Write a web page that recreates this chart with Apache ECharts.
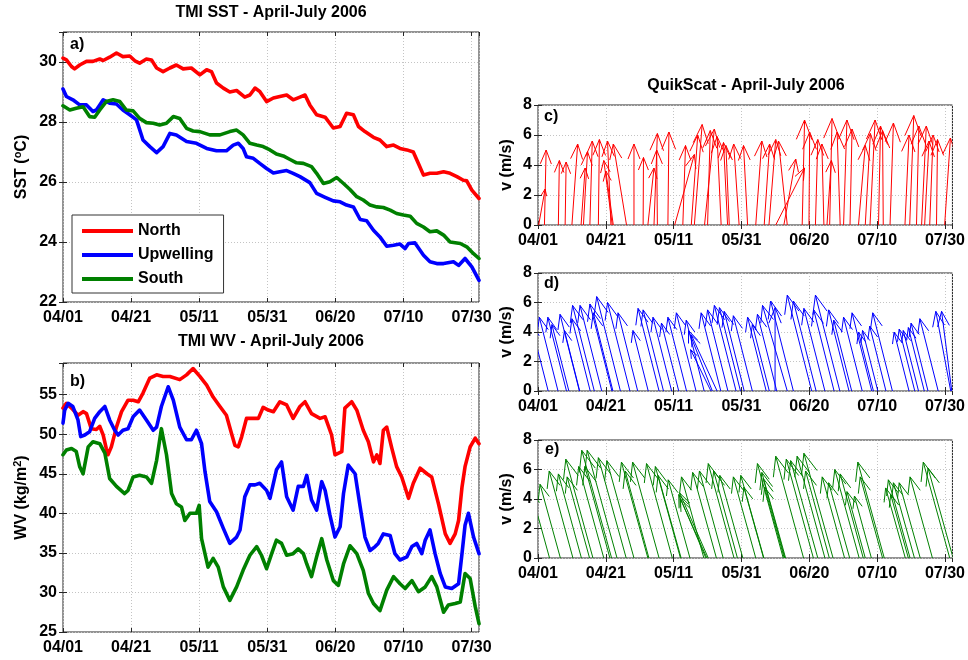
<!DOCTYPE html>
<html><head><meta charset="utf-8">
<script src="https://cdn.jsdelivr.net/npm/echarts@6/dist/echarts.min.js"></script>
<style>html,body{margin:0;padding:0;background:#fff}#chart{width:968px;height:660px}</style>
</head><body><div id="chart"></div>
<script>
// ---------- tick labels ----------
const tickLabels = ['04/01','04/21','05/11','05/31','06/20','07/10','07/30'];

// ---------- panel a: TMI SST (days since 04/01) ----------
const sstNorthDay = [0,1.0,2.5,3.4,4.9,6.9,8.8,10.8,11.8,13.7,15.7,17.6,19.6,21.1,22.5,24.5,26.0,27.5,29.4,31.4,33.3,35.3,37.7,40.2,42.2,43.6,45.1,47.1,49.0,51.0,53.4,54.9,56.4,57.8,59.8,61.8,63.7,65.7,67.6,69.6,71.1,72.5,74.5,77.0,79.4,81.4,83.3,85.3,86.8,88.7,91.2,93.1,95.1,97.1,99.0,101.0,102.9,104.4,105.9,107.8,109.8,111.8,113.7,115.7,117.6,118.6,120.1,122.2];
const sstNorth = [30.13,30.07,29.85,29.77,29.9,30.02,30.02,30.1,30.05,30.16,30.3,30.18,30.2,30.04,29.96,30.1,30.07,29.8,29.68,29.8,29.9,29.77,29.8,29.57,29.74,29.68,29.3,29.13,29.0,29.05,28.83,28.9,29.13,29.02,28.68,28.8,28.85,28.9,28.74,28.83,28.9,28.57,28.24,28.16,27.8,27.85,28.29,28.24,27.85,27.68,27.49,27.4,27.18,27.23,27.12,27.07,27.0,26.62,26.23,26.29,26.29,26.34,26.29,26.18,26.06,26.04,25.73,25.45];
const sstUpDay = [0,1.0,2.9,4.9,6.9,8.8,9.8,10.8,11.8,13.7,15.7,17.6,19.6,21.6,23.5,25.5,27.5,29.4,31.4,33.3,36.3,39.2,42.2,45.1,48.0,50.0,51.5,52.9,53.9,55.9,57.8,59.8,61.8,63.7,65.7,67.6,69.6,72.5,74.5,77.0,79.4,81.4,83.3,85.3,87.3,89.2,91.2,93.1,95.1,97.1,99.0,100.5,101.5,103.4,105.9,107.8,109.8,111.8,114.7,116.2,118.1,120.1,122.2];
const sstUp = [29.1,28.85,28.74,28.57,28.57,28.35,28.4,28.57,28.74,28.63,28.6,28.4,28.24,28.07,27.4,27.18,26.98,27.18,27.62,27.57,27.35,27.29,27.12,27.04,27.04,27.23,27.29,27.12,26.84,26.79,26.62,26.45,26.3,26.34,26.38,26.29,26.18,25.98,25.62,25.49,25.37,25.34,25.23,25.17,24.75,24.71,24.39,24.17,23.86,23.89,23.93,23.78,23.95,23.97,23.56,23.34,23.28,23.28,23.34,23.22,23.45,23.17,22.72];
const sstSouthDay = [0,2.0,3.9,5.9,7.8,9.3,10.8,12.7,14.7,16.7,18.6,20.6,22.5,24.5,26.5,28.4,30.4,32.4,34.3,36.3,38.2,40.2,43.1,46.1,49.0,51.0,52.9,54.9,56.9,58.8,60.8,62.7,64.7,66.7,68.6,70.6,73.0,74.5,76.5,78.4,80.4,82.4,84.3,86.3,88.2,90.2,92.2,94.1,96.1,98.0,100.0,102.0,103.9,105.9,107.8,109.8,111.8,113.7,116.7,118.6,120.6,122.2];
const sstSouth = [28.54,28.4,28.46,28.51,28.18,28.16,28.4,28.68,28.74,28.68,28.4,28.37,28.12,27.98,27.96,27.9,27.96,28.18,28.12,27.79,27.7,27.68,27.57,27.57,27.68,27.73,27.57,27.29,27.23,27.18,27.07,26.93,26.87,26.75,26.64,26.62,26.51,26.29,25.95,26.01,26.15,25.95,25.75,25.51,25.4,25.23,25.17,25.15,25.06,24.95,24.9,24.86,24.62,24.5,24.34,24.37,24.23,24.0,23.95,23.84,23.61,23.45];

// ---------- panel b: TMI WV ----------
const wvNorthDay = [0,1.0,2.5,4.4,5.9,6.9,8.3,9.8,10.8,11.8,12.7,13.2,14.2,15.7,17.2,19.1,20.6,22.1,23.5,25.5,27.5,29.4,31.4,34.3,36.3,38.2,40.2,42.2,44.1,46.1,48.0,49.5,50.5,51.5,52.5,53.9,55.9,57.4,58.8,60.3,61.8,63.7,65.7,67.6,69.6,71.1,73.0,75.5,77.0,78.9,79.9,81.9,82.8,84.8,86.3,88.2,89.7,91.2,92.2,93.1,94.1,95.1,96.6,98.0,99.5,101.5,102.9,104.9,106.9,108.3,110.3,112.3,113.7,115.2,116.2,117.2,118.1,119.6,121.1,122.2];
const wvNorth = [53.3,53.9,53.3,52.4,52.85,52.6,50.7,50.6,51.0,49.9,48.2,47.4,48.4,50.9,52.85,54.3,54.3,54.1,55.2,57.1,57.5,57.3,57.3,56.9,57.5,58.3,57.3,56.2,54.7,53.5,52.4,50.1,48.6,48.4,49.7,52.0,52.0,52.0,53.4,53.05,52.85,54.1,53.7,52.0,53.5,54.1,52.6,52.0,52.2,49.9,47.4,47.8,53.3,54.1,53.05,50.5,49.05,46.5,47.4,46.3,50.5,50.9,48.2,45.9,44.6,41.9,43.8,45.7,45.0,44.6,41.2,37.4,36.2,37.4,39.1,43.3,45.9,48.4,49.5,48.8];
const wvUpDay = [0,0.5,1.5,2.9,4.4,5.2,6.4,7.8,9.3,10.8,12.3,13.7,15.2,16.2,17.6,19.1,20.6,22.5,24.5,26.5,27.5,28.9,30.9,32.4,34.3,36.3,37.7,39.2,40.7,41.7,43.1,45.1,47.1,49.0,51.0,52.0,53.4,54.9,56.4,57.8,59.8,60.8,62.7,64.2,65.7,67.6,69.1,70.6,71.6,73.0,74.5,76.0,77.0,78.4,79.9,81.4,82.4,83.8,85.8,87.3,88.7,90.2,91.7,92.6,94.1,96.1,97.5,99.0,101.0,102.5,103.9,105.4,106.4,107.8,109.3,110.8,112.3,114.2,116.2,117.2,118.1,119.1,120.6,122.2];
const wvUp = [51.4,53.05,53.9,53.5,51.8,49.7,49.9,50.3,52.0,52.85,53.5,51.8,50.5,49.9,50.5,50.7,52.2,53.05,51.8,50.5,50.9,53.5,56.0,54.3,50.9,49.3,49.3,50.5,48.8,45.3,41.5,40.2,38.1,36.2,37.0,37.9,42.1,43.6,43.6,43.8,42.9,41.9,45.5,46.5,42.1,40.4,43.4,43.4,44.8,41.7,40.4,44.0,42.9,39.8,37.0,38.3,42.5,46.1,45.0,40.8,37.0,35.3,35.8,36.2,37.4,37.2,34.9,34.1,34.5,35.8,36.2,34.9,36.6,37.9,34.9,32.4,30.7,30.5,31.1,34.9,38.5,40.0,37.0,34.9];
const wvSouthDay = [0,1.0,2.5,3.9,4.9,5.9,7.4,8.8,10.8,12.3,13.7,15.7,18.1,19.1,20.6,22.5,24.5,26.0,27.5,28.9,30.4,31.9,33.3,34.8,35.8,37.3,39.2,40.0,40.7,42.6,44.1,45.6,47.1,49.0,51.0,52.9,54.9,56.9,58.3,59.8,61.3,62.7,64.2,65.7,67.6,69.1,70.6,71.6,73.0,74.5,76.0,77.5,79.4,80.9,82.4,84.3,86.3,88.2,89.7,91.2,93.1,95.1,97.1,99.0,100.5,102.5,104.4,106.4,108.3,109.8,111.8,113.2,115.2,116.7,118.1,119.6,121.1,122.2];
const wvSouth = [47.4,48.0,48.2,47.8,45.9,45.0,48.4,49.05,48.8,47.6,44.4,43.4,42.5,42.9,44.6,44.8,44.6,43.8,46.7,50.7,47.4,42.5,41.2,40.8,39.1,40.0,40.0,41.0,36.8,33.2,34.3,33.2,30.7,29.0,30.7,32.8,34.7,35.8,34.7,33.0,34.9,36.6,36.2,34.7,34.9,35.5,34.9,33.6,32.0,34.5,36.8,34.1,31.5,30.9,33.6,35.9,34.9,32.8,29.9,28.6,27.7,30.3,32.0,31.1,30.5,31.5,30.1,30.7,32.0,30.7,27.5,28.4,28.6,28.8,32.4,31.75,28.2,26.05];

// ---------- panels c, d, e: QuikScat wind vectors (base day, u, v in m/s) ----------
const cDay = [0.2,1.9,6.0,8.0,10.0,12.7,13.4,15.3,17.8,21.9,22.2,21.5,26.1,28.3,31.0,32.4,34.2,35.2,38.3,40.3,42.7,45.2,46.1,50.0,49.1,54.0,55.9,56.4,59.3,61.8,64.2,66.7,68.1,73.5,72.5,70.1,77.9,79.9,81.8,84.3,85.2,86.0,89.1,90.1,92.0,94.5,96.5,97.9,100.4,101.8,103.8,108.2,109.6,111.6,113.1,114.0,115.5,117.5,119.9];
const cU = [0.95,0.25,0.15,0.15,0.85,0.6,0.6,0.35,0.15,-1.25,-1.1,-0.5,-1.95,0,0.05,0.9,0.5,-0.1,0.15,2.9,0.4,0.95,1.15,0.4,1.45,-0.6,-0.6,-0.5,-0.8,-0.6,0.9,0.8,1.0,-1.3,1.75,4.25,0.35,0.1,0.35,-0.3,0.65,0.35,-0.45,0.5,0.3,1.0,0.75,0.75,0.3,-0.1,0.5,0.6,0.6,0.35,0.7,0.65,0.5,0.15,0.85];
const cV = [2.4,5.0,4.3,4.2,5.4,3.8,4.9,5.6,5.7,4.3,3.6,5.6,5.4,5.4,4.5,3.8,6.1,5.0,6.2,4.7,5.3,6.0,6.7,6.3,6.4,5.9,5.5,5.3,5.4,5.3,5.6,5.4,5.7,5.6,4.4,3.8,7.0,6.2,5.7,5.4,4.3,7.1,6.2,7.0,6.4,5.3,6.1,7.0,6.6,6.3,6.8,6.0,7.3,6.6,6.6,5.6,6.0,5.7,5.8];

const dDay = [3.0,5.9,8.4,9.1,12.2,12.3,15.4,16.6,18.8,21.8,22.1,24.3,27.1,29.4,32.5,35.7,37.0,39.4,41.5,43.8,46.6,49.0,51.4,52.8,51.0,53.9,56.0,58.4,59.7,60.8,63.2,67.3,68.2,70.4,73.5,75.3,69.9,80.7,82.0,84.6,87.3,89.0,91.7,92.5,95.6,98.4,98.9,100.2,102.6,104.5,109.4,111.1,112.2,113.9,115.0,118.0,121.7,122.0];
const dU = [-2.5,-2.75,-2.75,-2.5,-2.85,-2.25,-2.7,-3.2,-3.2,-3.25,-2.9,-3.5,-3.3,-2.9,-2.25,-3.1,-3.0,-2.75,-2.55,-2.75,-2.9,-2.65,-3.5,-3.8,-3.0,-2.9,-3.0,-3.2,-3.1,-2.95,-2.8,-2.75,-2.5,-2.85,-3.65,-3.35,0,-3.6,-3.35,-3.1,-3.0,-3.6,-3.0,-2.65,-2.75,-2.9,-2.2,-2.25,-2.4,-2.9,-2.2,-2.3,-2.25,-2.35,-2.5,-2.7,-2.2,-1.5];
const dV = [4.5,5.0,5.0,4.5,5.2,4.1,4.9,5.8,5.8,5.9,5.3,6.4,6.0,5.3,4.1,5.6,5.5,5.0,4.6,5.0,5.3,4.8,4.1,3.8,2.8,5.3,5.5,5.8,5.65,5.4,5.1,5.0,4.5,5.2,5.8,6.1,5.65,6.5,6.1,5.6,5.5,6.5,5.5,4.8,5.0,5.3,4.0,4.1,4.4,5.3,4.0,4.2,4.1,4.3,4.6,4.9,5.4,5.4];

const eDay = [3.4,6.6,10.3,12.8,16.2,15.2,19.4,21.7,21.2,23.3,26.0,28.3,32.4,32.7,35.7,39.6,42.0,42.2,44.8,49.5,50.2,49.8,48.9,52.6,54.6,57.8,58.8,60.4,64.2,66.6,66.5,72.3,73.0,72.8,72.6,78.3,81.2,82.5,84.6,87.0,85.9,90.4,91.9,94.7,95.9,96.5,98.3,102.1,101.6,108.3,109.7,109.2,111.0,112.7,116.3,121.4,122.4];
const eU = [-2.7,-3.0,-3.5,-3.4,-4.0,-3.3,-3.7,-4.4,-3.7,-4.4,-4.1,-4.0,-3.9,-3.5,-3.9,-3.8,-3.7,-3.4,-3.2,-4.0,-4.2,-3.9,-3.3,-3.5,-3.5,-3.8,-3.5,-3.4,-3.3,-3.4,-2.9,-3.8,-3.5,-3.2,-2.9,-4.1,-4.0,-4.0,-4.1,-4.3,-3.5,-3.3,-3.1,-3.6,-3.4,-2.7,-2.5,-3.9,-3.3,-2.9,-3.2,-2.6,-3.1,-3.1,-3.3,-3.9,-3.7];
const eV = [4.5,5.0,5.9,5.7,6.7,5.5,6.2,7.3,6.2,7.3,6.8,6.6,6.5,5.9,6.5,6.4,6.2,5.6,5.3,4.3,4.4,4.0,5.5,5.8,5.9,6.4,5.9,5.6,5.5,5.6,4.8,6.4,5.8,5.4,4.8,6.9,6.7,6.6,6.9,7.1,5.9,5.5,5.1,6.0,5.7,4.5,4.2,6.5,5.5,4.75,5.3,4.3,5.1,5.1,5.5,6.5,6.1];

// ---------- rendering ----------
const FONT = '"Liberation Sans", Arial, Helvetica, sans-serif';
const KX = 2;          // horizontal display scale: days per (m/s) of u
const HEAD = 0.2;      // arrow head length relative to arrow length
const HEADANG = 0.38;  // half-angle of arrow head (rad)
const XMAX = 122.2;

const grids = [
  {left:63, top:32, width:416, height:270},
  {left:63, top:363, width:416, height:269},
  {left:538, top:105, width:416, height:120},
  {left:538, top:273, width:416, height:118},
  {left:538, top:440, width:416, height:118}
];
const yCfg = [
  {min:22, max:31, interval:2, step:2, name:'{t|SST (}{s|o}{t|C)}', gap:31},
  {min:25, max:59, interval:5, step:5, name:'{t|WV (kg/m}{s|2}{t|)}', gap:31},
  {min:0, max:8, interval:2, step:2, name:'{t|v (m/s)}', gap:23},
  {min:0, max:8, interval:2, step:2, name:'{t|v (m/s)}', gap:23},
  {min:0, max:8, interval:2, step:2, name:'{t|v (m/s)}', gap:23}
];
const labelStyle = {color:'#000', fontSize:16, fontWeight:'bold', fontFamily:FONT};
const tickStyle = {show:true, inside:true, length:4, lineStyle:{color:'#262626', width:1}};
const splitStyle = {show:true, lineStyle:{color:'#c4c4c4', width:1, type:[1,2]}};

const xAxes = [], yAxes = [];
grids.forEach((g, i) => {
  xAxes.push({gridIndex:i, type:'value', min:0, max:XMAX, interval:20,
    axisLine:{show:false}, axisTick:tickStyle, splitLine:splitStyle,
    axisLabel:Object.assign({margin:8, showMaxLabel:false, formatter:v => {
      const k = Math.round(v / 20);
      return (Math.abs(v - k*20) < 1e-6 && tickLabels[k]) ? tickLabels[k] : '';
    }}, labelStyle)});
  const c = yCfg[i];
  yAxes.push({gridIndex:i, type:'value', min:c.min, max:c.max, interval:c.interval,
    axisLine:{show:false}, axisTick:tickStyle, splitLine:splitStyle,
    axisLabel:Object.assign({margin:6, formatter:v => (Math.abs((v - c.min) % c.step) < 1e-6 ? String(v) : '')}, labelStyle),
    name:c.name, nameLocation:'middle', nameGap:c.gap, nameRotate:90,
    nameTextStyle:{rich:{
      t:{fontSize:16, fontWeight:'bold', fontFamily:FONT, color:'#000'},
      s:{fontSize:11, fontWeight:'bold', fontFamily:FONT, color:'#000', padding:[0,0,9,0]}
    }}});
});
grids.forEach((g, i) => {
  xAxes.push({gridIndex:i, type:'value', position:'top', min:0, max:XMAX, interval:20,
    axisLine:{show:false}, axisTick:tickStyle, splitLine:{show:false}, axisLabel:{show:false}});
  const c = yCfg[i];
  yAxes.push({gridIndex:i, type:'value', position:'right', min:c.min, max:c.max, interval:c.interval,
    axisLine:{show:false}, axisTick:tickStyle, splitLine:{show:false}, axisLabel:{show:false}});
});

function pairs(ds, vs) {
  const n = Math.min(ds.length, vs.length), out = [];
  for (let i = 0; i < n; i++) out.push([ds[i], vs[i]]);
  return out;
}
function lineSeries(name, idx, ds, vs, color) {
  return {type:'line', name, xAxisIndex:idx, yAxisIndex:idx, data:pairs(ds, vs),
    showSymbol:false, symbol:'none', smooth:false, clip:true,
    lineStyle:{width:3.6, color, join:'round', cap:'round'}, itemStyle:{color}, z:3};
}
function quiverSeries(name, idx, ds, us, vs, color) {
  const n = Math.min(ds.length, us.length, vs.length), data = [];
  for (let i = 0; i < n; i++) data.push([ds[i], us[i], vs[i]]);
  return {type:'custom', name, xAxisIndex:idx, yAxisIndex:idx, data,
    encode:{x:0, y:2}, z:3,
    renderItem:(params, api) => {
      const d = api.value(0), u = api.value(1), v = api.value(2);
      const p0 = api.coord([d, 0]);
      const p1 = api.coord([d + u * KX, v]);
      const dx = p1[0] - p0[0], dy = p1[1] - p0[1];
      const L = Math.sqrt(dx*dx + dy*dy);
      const hl = HEAD * L;
      const ang = Math.atan2(dy, dx) + Math.PI;
      const h1 = [p1[0] + hl*Math.cos(ang - HEADANG), p1[1] + hl*Math.sin(ang - HEADANG)];
      const h2 = [p1[0] + hl*Math.cos(ang + HEADANG), p1[1] + hl*Math.sin(ang + HEADANG)];
      const cs = params.coordSys;
      return {type:'group',
        clipPath:{type:'rect', shape:{x:cs.x, y:cs.y, width:cs.width, height:cs.height}},
        children:[
          {type:'polyline', shape:{points:[p0, p1]}, style:{stroke:color, lineWidth:1, fill:null}},
          {type:'polyline', shape:{points:[h1, p1, h2]}, style:{stroke:color, lineWidth:1, fill:null}}
        ]};
    }};
}

const RED = '#ff0000', BLUE = '#0000ff', GREEN = '#008000';
const series = [
  lineSeries('North', 0, sstNorthDay, sstNorth, RED),
  lineSeries('Upwelling', 0, sstUpDay, sstUp, BLUE),
  lineSeries('South', 0, sstSouthDay, sstSouth, GREEN),
  lineSeries('North', 1, wvNorthDay, wvNorth, RED),
  lineSeries('Upwelling', 1, wvUpDay, wvUp, BLUE),
  lineSeries('South', 1, wvSouthDay, wvSouth, GREEN),
  quiverSeries('c', 2, cDay, cU, cV, RED),
  quiverSeries('d', 3, dDay, dU, dV, BLUE),
  quiverSeries('e', 4, eDay, eU, eV, GREEN)
];

function txt(x, y, text, align) {
  return {type:'text', x, y, z:100, style:{text, font:'bold 16px ' + FONT, fill:'#000',
    align:align || 'center', verticalAlign:'middle', textAlign:align || 'center', textVerticalAlign:'middle'}};
}

const option = {
  animation:false,
  backgroundColor:'#fff',
  grid:grids.map(g => Object.assign({show:true, borderColor:'#262626', borderWidth:1, backgroundColor:'#fff', containLabel:false}, g)),
  xAxis:xAxes,
  yAxis:yAxes,
  legend:{show:true, data:['North','Upwelling','South'], orient:'vertical', left:72, top:215,
    itemWidth:51, itemHeight:4, icon:'rect', itemGap:8, padding:[8,10,6,10],
    backgroundColor:'#fff', borderColor:'#333', borderWidth:1, selectedMode:false,
    textStyle:{fontSize:16, fontWeight:'bold', color:'#000', fontFamily:FONT}},
  graphic:[
    txt(271, 13, 'TMI SST - April-July 2006'),
    txt(271, 342, 'TMI WV - April-July 2006'),
    txt(746, 86, 'QuikScat - April-July 2006'),
    txt(70, 45, 'a)', 'left'),
    txt(70, 382, 'b)', 'left'),
    txt(544, 117, 'c)', 'left'),
    txt(544, 284, 'd)', 'left'),
    txt(545, 450, 'e)', 'left')
  ],
  series
};
const chart = echarts.init(document.getElementById('chart'), null, {renderer:'canvas', width:968, height:660});
chart.setOption(option);
</script></body></html>
